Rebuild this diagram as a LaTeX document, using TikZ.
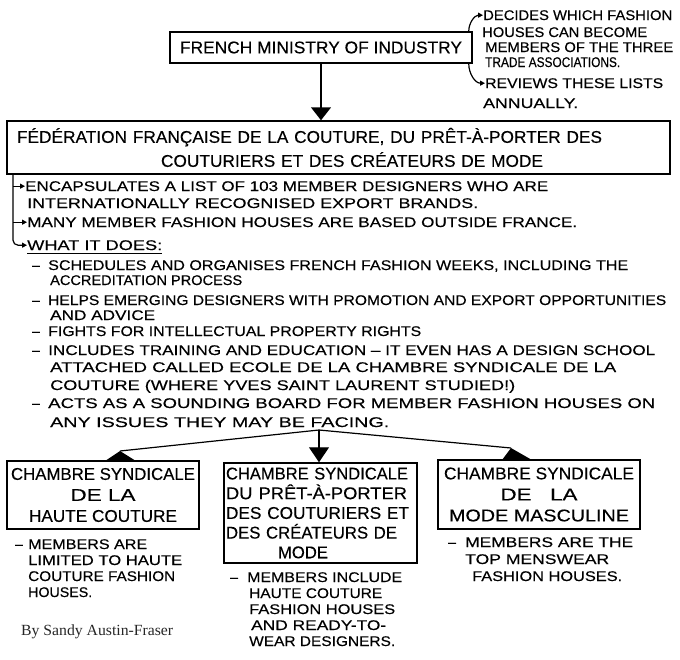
\documentclass[tikz,border=0pt]{standalone}
\usepackage{fontspec}
\usepackage{graphicx}
\setmainfont{Liberation Sans}
\newfontfamily\handfont[FakeBold=0.25]{Liberation Sans}
\newfontfamily\byfont{Liberation Serif}
\usetikzlibrary{arrows.meta}
\newcommand\hw[2]{\resizebox{#1pt}{\height}{#2}}
\tikzset{
  body/.style={font=\handfont\fontsize{14}{17}\selectfont, inner sep=0pt, anchor=base west},
  tbox/.style={draw, line width=1.5pt, font=\handfont\fontsize{17}{21}\selectfont, inner sep=0pt, align=center},
  conn/.style={line width=1.2pt},
  bigtip/.style={-{Triangle[length=13pt,width=20pt]}},
  smalltip/.style={-{Triangle[length=5pt,width=5pt]}}
}
\begin{document}
\begin{tikzpicture}[x=1pt,y=-1pt]
\fill[white] (0,0) rectangle (680,659);
\useasboundingbox (0,0) rectangle (680,659);

% top box and notes
\node[tbox, minimum width=302pt, minimum height=31pt] (min) at (321,47.5) {\hw{282}{FRENCH MINISTRY OF INDUSTRY}};
\node[body] (dec1) at (483,20) {\hw{189}{DECIDES WHICH FASHION}};
\node[body] (dec2) at (482,37) {\hw{165}{HOUSES CAN BECOME}};
\node[body] (dec3) at (485,52) {\hw{188}{MEMBERS OF THE THREE}};
\node[body] (dec4) at (485,67) {\hw{135}{TRADE ASSOCIATIONS.}};
\node[body] (rev1) at (485,88) {\hw{178}{REVIEWS THESE LISTS}};
\node[body] (rev2) at (483,108) {\hw{95}{ANNUALLY.}};
\draw[conn, smalltip] ([xshift=-4pt]min.north east) to[out=90,in=180] (dec1.west);
\draw[conn, smalltip] ([xshift=-4pt]min.south east) to[out=-90,in=180] (rev1.west);

% federation box
\node[tbox, font=\handfont\fontsize{17}{24}\selectfont, minimum width=663pt, minimum height=53pt, text width=643pt, align=left] (fed) at (338.5,147.5)
  {\hw{585}{FÉDÉRATION FRANÇAISE DE LA COUTURE, DU PRÊT-À-PORTER DES}\\\hspace*{144pt}\hw{382}{COUTURIERS ET DES CRÉATEURS DE MODE}};
\draw[line width=1.5pt, bigtip] (min.south) -- (min.south |- fed.north);

% bullets
\node[body] (enc1) at (25,191) {\hw{523}{ENCAPSULATES A LIST OF 103 MEMBER DESIGNERS WHO ARE}};
\node[body] (enc2) at (27,208) {\hw{451}{INTERNATIONALLY RECOGNISED EXPORT BRANDS.}};
\node[body] (many) at (27,227) {\hw{550}{MANY MEMBER FASHION HOUSES ARE BASED OUTSIDE FRANCE.}};
\node[body] (what) at (27,250) {\hw{135}{WHAT IT DOES:}};
\draw[line width=1pt] ([yshift=-3pt]what.base west) -- ([yshift=-3pt]what.base east);
\coordinate (rtop) at (13,174);
\draw[conn, rounded corners=5pt, smalltip] (rtop) |- (what.west);
\draw[conn, smalltip] (rtop |- enc1.west) -- (enc1.west);
\draw[conn, smalltip] (rtop |- many.west) -- (many.west);

% what it does list
\node[body] (dash1) at (32,270) {–};
\node[body] (d1a) at (48,270) {\hw{580}{SCHEDULES AND ORGANISES FRENCH FASHION WEEKS, INCLUDING THE}};
\node[body] (d1b) at (50,285) {\hw{192}{ACCREDITATION PROCESS}};
\node[body] (dash2) at (32,305) {–};
\node[body] (d2a) at (48,305) {\hw{618}{HELPS EMERGING DESIGNERS WITH PROMOTION AND EXPORT OPPORTUNITIES}};
\node[body] (d2b) at (50,320) {\hw{105}{AND ADVICE}};
\node[body] (dash3) at (32,336) {–};
\node[body] (d3a) at (48,336) {\hw{373}{FIGHTS FOR INTELLECTUAL PROPERTY RIGHTS}};
\node[body] (dash4) at (32,355) {–};
\node[body] (d4a) at (48,355) {\hw{607}{INCLUDES TRAINING AND EDUCATION – IT EVEN HAS A DESIGN SCHOOL}};
\node[body] (d4b) at (50,372) {\hw{566}{ATTACHED CALLED ECOLE DE LA CHAMBRE SYNDICALE DE LA}};
\node[body] (d4c) at (50,390) {\hw{465}{COUTURE (WHERE YVES SAINT LAURENT STUDIED!)}};
\node[body] (dash5) at (32,408) {–};
\node[body] (d5a) at (48,408) {\hw{607}{ACTS AS A SOUNDING BOARD FOR MEMBER FASHION HOUSES ON}};
\node[body] (d5b) at (50,427) {\hw{339}{ANY ISSUES THEY MAY BE FACING.}};

% three bottom boxes
\node[tbox, minimum width=192pt, minimum height=68pt] (lbox) at (103,495)
  {\hw{184}{CHAMBRE SYNDICALE}\\\hw{65}{DE LA}\hspace*{12pt}\\\hw{148}{HAUTE COUTURE}};
\node[tbox, font=\handfont\fontsize{17}{19.7}\selectfont, minimum width=193pt, minimum height=100pt, text width=189pt, align=left] (mbox) at (320.5,513)
  {\hw{182}{CHAMBRE SYNDICALE}\\\hw{181}{DU PRÊT-À-PORTER}\\\hw{183}{DES COUTURIERS ET}\\\hw{171}{DES CRÉATEURS DE}\\\hspace*{52pt}\hw{50}{MODE}};
\node[tbox, minimum width=202pt, minimum height=69pt] (rbox) at (539,494.5)
  {\hw{190}{CHAMBRE SYNDICALE}\\\hw{77}{DE\hspace{14pt}LA}\hspace*{36pt}\\\hw{180}{MODE MASCULINE}};

% branch connectors
\coordinate (br) at (319,430);
\coordinate (lapex) at (120,451);
\coordinate (rapex) at (511,448);
\draw[conn] (br) -- (lapex);
\fill (105,461) -- (lapex) -- (136,461) -- cycle;
\draw[conn, -{Triangle[length=15pt,width=20pt]}] (br) -- (br |- mbox.north);
\draw[conn] (br) -- (rapex);
\fill (502,460) -- (rapex) -- (532,460) -- cycle;

% notes under boxes
\node[body] (ldash) at (15,549) {–};
\node[body] (l1) at (28,549) {\hw{119}{MEMBERS ARE}};
\node[body] (l2) at (28,565) {\hw{154}{LIMITED TO HAUTE}};
\node[body] (l3) at (28,581) {\hw{147}{COUTURE FASHION}};
\node[body] (l4) at (28,597) {\hw{64}{HOUSES.}};
\node[body] (mdash) at (230,582) {–};
\node[body] (m1) at (247,582) {\hw{155}{MEMBERS INCLUDE}};
\node[body] (m2) at (249,598) {\hw{133}{HAUTE COUTURE}};
\node[body] (m3) at (249,614) {\hw{146}{FASHION HOUSES}};
\node[body] (m4) at (251,630) {\hw{135}{AND READY-TO-}};
\node[body] (m5) at (249,646) {\hw{146}{WEAR DESIGNERS.}};
\node[body] (rdash) at (448,547) {–};
\node[body] (r1) at (465,547) {\hw{168}{MEMBERS ARE THE}};
\node[body] (r2) at (465,564) {\hw{144}{TOP MENSWEAR}};
\node[body] (r3) at (472,581) {\hw{150}{FASHION HOUSES.}};

\node[font=\byfont\fontsize{15.5}{18}\selectfont, text=black!85, inner sep=0pt, anchor=base west] (by) at (21,635) {\hw{152}{By Sandy Austin-Fraser}};
\end{tikzpicture}
\end{document}
